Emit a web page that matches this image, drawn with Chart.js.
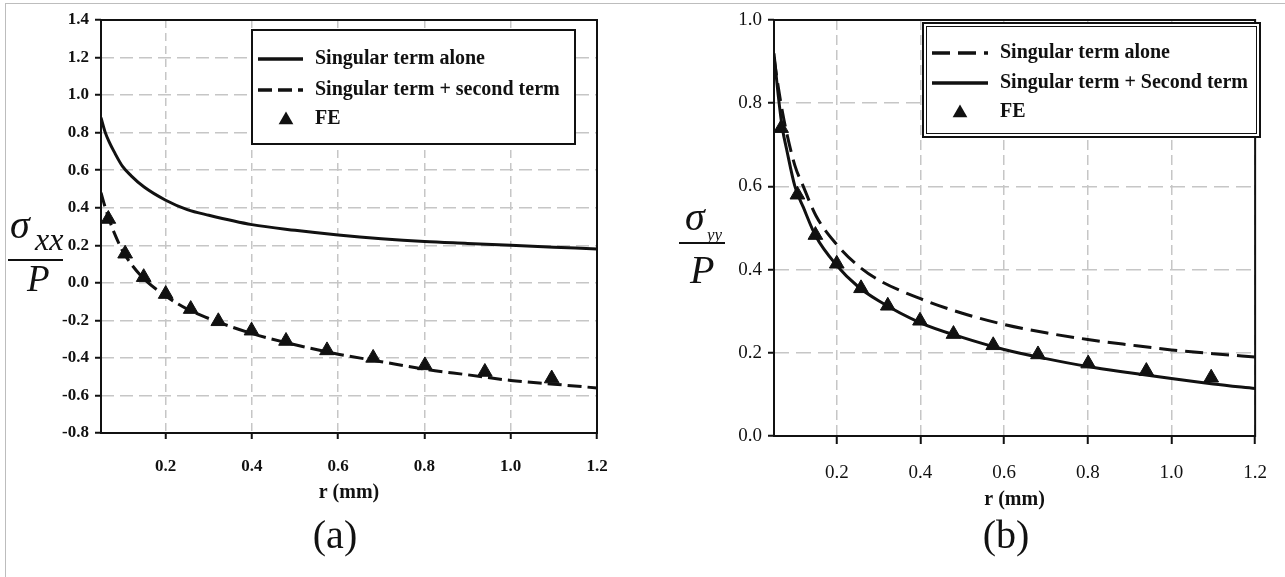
<!DOCTYPE html>
<html>
<head>
<meta charset="utf-8">
<script src="https://cdn.jsdelivr.net/npm/chart.js@4.4.1/dist/chart.umd.min.js"></script>
<style>
  body { margin: 0; background: #fff; }
  #page { position: relative; width: 1285px; height: 577px; overflow: hidden; background: #fff; }
  #frame { position: absolute; left: 5px; top: 3px; width: 1300px; height: 600px; border-top: 1px solid #bdbdbd; border-left: 1px solid #bdbdbd; }
  .box { position: absolute; top: 0; height: 577px; }
</style>
</head>
<body>
<div id="page">
  <div id="frame"></div>
  <div class="box" style="left:0;width:640px"><canvas id="chartA"></canvas></div>
  <div class="box" style="left:640px;width:645px"><canvas id="chartB"></canvas></div>
</div>
<script>
// r values (mm)
const rLine = [0.05, 0.06, 0.07, 0.08, 0.10, 0.12, 0.15, 0.20, 0.25, 0.30, 0.40, 0.50, 0.60, 0.70, 0.80, 0.90, 1.00, 1.10, 1.20];
// r values of the FE points
const rFE = [0.067, 0.106, 0.149, 0.200, 0.258, 0.322, 0.399, 0.479, 0.574, 0.681, 0.801, 0.940, 1.095];

// (a) sigma_xx / P
const sxxSingular = [0.88, 0.80, 0.745, 0.70, 0.62, 0.57, 0.51, 0.44, 0.39, 0.36, 0.31, 0.28, 0.255, 0.235, 0.22, 0.21, 0.20, 0.19, 0.18];
const sxxTwoTerm = [0.48, 0.40, 0.33, 0.27, 0.17, 0.10, 0.02, -0.07, -0.14, -0.19, -0.27, -0.33, -0.38, -0.42, -0.46, -0.49, -0.52, -0.54, -0.56];
const sxxFE = [0.34, 0.155, 0.03, -0.06, -0.14, -0.205, -0.255, -0.31, -0.36, -0.40, -0.44, -0.475, -0.51];

// (b) sigma_yy / P
const syySingular = [0.91, 0.84, 0.78, 0.73, 0.65, 0.60, 0.53, 0.46, 0.41, 0.375, 0.33, 0.295, 0.268, 0.248, 0.232, 0.219, 0.207, 0.198, 0.19];
const syyTwoTerm = [0.92, 0.82, 0.74, 0.69, 0.60, 0.55, 0.48, 0.41, 0.36, 0.325, 0.272, 0.237, 0.208, 0.186, 0.167, 0.152, 0.138, 0.125, 0.114];
const syyFE = [0.74, 0.58, 0.483, 0.414, 0.355, 0.313, 0.277, 0.245, 0.218, 0.196, 0.174, 0.156, 0.14];

// tick labels
const xTicks = [0.2, 0.4, 0.6, 0.8, 1.0, 1.2];
const yTicksA = [-0.8, -0.6, -0.4, -0.2, 0.0, 0.2, 0.4, 0.6, 0.8, 1.0, 1.2, 1.4];
const yTicksB = [0.0, 0.2, 0.4, 0.6, 0.8, 1.0];

const INK = '#111';
const SERIF = '"Liberation Serif", "Times New Roman", serif';

function pairs(xs, ys) {
  return xs.map((x, i) => ({x: x, y: ys[i]}));
}

function lineSet(label, ys, dash) {
  return {
    label: label,
    data: pairs(rLine, ys),
    showLine: true,
    borderColor: INK,
    borderWidth: 3,
    borderDash: dash,
    pointRadius: 0,
    cubicInterpolationMode: 'monotone'
  };
}

function feSet(ys) {
  return {
    label: 'FE',
    data: pairs(rFE, ys),
    showLine: false,
    pointStyle: 'triangle',
    pointRadius: 8.5,
    backgroundColor: INK,
    borderColor: INK,
    borderWidth: 1
  };
}

function drawTriangle(ctx, x, y, r) {
  ctx.beginPath();
  ctx.moveTo(x, y - r);
  ctx.lineTo(x + r * 0.866, y + r / 2);
  ctx.lineTo(x - r * 0.866, y + r / 2);
  ctx.closePath();
  ctx.fill();
}

// box round the plot area
const plotFrame = {
  id: 'plotFrame',
  afterDatasetsDraw(chart) {
    const {ctx, chartArea: a} = chart;
    ctx.save();
    ctx.strokeStyle = INK;
    ctx.lineWidth = 2;
    ctx.strokeRect(a.left, a.top, a.right - a.left, a.bottom - a.top);
    ctx.restore();
  }
};

// legend drawn inside the plot, like the original figure
const legendBox = {
  id: 'legendBox',
  afterDraw(chart, args, o) {
    const ctx = chart.ctx;
    ctx.save();
    ctx.fillStyle = '#fff';
    ctx.fillRect(o.x, o.y, o.w, o.h);
    ctx.strokeStyle = INK;
    ctx.lineWidth = 2;
    ctx.strokeRect(o.x, o.y, o.w, o.h);
    if (o.double) {
      ctx.lineWidth = 1;
      ctx.strokeRect(o.x + 3.5, o.y + 3.5, o.w - 7, o.h - 7);
    }
    ctx.font = 'bold 20px ' + SERIF;
    ctx.textBaseline = 'middle';
    chart.data.datasets.forEach((ds, i) => {
      const y = o.rows[i];
      ctx.fillStyle = INK;
      if (ds.showLine) {
        ctx.strokeStyle = INK;
        ctx.lineWidth = 3.5;
        ctx.setLineDash(ds.borderDash || []);
        ctx.beginPath();
        ctx.moveTo(o.sampleX, y);
        ctx.lineTo(o.sampleX + o.sampleW, y);
        ctx.stroke();
        ctx.setLineDash([]);
      } else {
        drawTriangle(ctx, o.markerX, y + 1, 8.5);
      }
      ctx.fillText(ds.label, o.textX, y);
    });
    ctx.restore();
  }
};

// y axis fraction, x axis title and the (a)/(b) caption
const figureText = {
  id: 'figureText',
  afterDraw(chart, args, o) {
    const ctx = chart.ctx;
    const a = chart.chartArea;
    ctx.save();
    ctx.fillStyle = INK;
    ctx.textBaseline = 'alphabetic';
    ctx.textAlign = 'left';
    ctx.font = 'italic ' + o.sigma.size + 'px ' + SERIF;
    ctx.fillText('σ', o.sigma.x, o.sigma.y);
    ctx.font = 'italic ' + o.sub.size + 'px ' + SERIF;
    ctx.fillText(o.sub.text, o.sub.x, o.sub.y);
    ctx.font = 'italic ' + o.p.size + 'px ' + SERIF;
    ctx.fillText('P', o.p.x, o.p.y);
    ctx.strokeStyle = INK;
    ctx.lineWidth = 2;
    ctx.beginPath();
    ctx.moveTo(o.bar.x1, o.bar.y);
    ctx.lineTo(o.bar.x2, o.bar.y);
    ctx.stroke();

    ctx.textAlign = 'center';
    ctx.textBaseline = 'middle';
    ctx.font = 'bold 20px ' + SERIF;
    ctx.fillText('r (mm)', (a.left + a.right) / 2, o.titleY);
    ctx.font = '40px ' + SERIF;
    ctx.fillText(o.caption, o.captionX, o.captionY);
    ctx.restore();
  }
};

function makeConfig(datasets, c) {
  return {
    type: 'scatter',
    data: {datasets: datasets},
    options: {
      responsive: true,
      maintainAspectRatio: false,
      animation: false,
      layout: {padding: c.padding},
      plugins: {
        legend: {display: false},
        tooltip: {enabled: false},
        legendBox: c.legend,
        figureText: c.text
      },
      scales: {
        x: {
          type: 'linear',
          min: 0.05,
          max: 1.2,
          afterBuildTicks: s => { s.ticks = xTicks.map(v => ({value: v})); },
          afterFit: s => { s.height = 60; },
          grid: {color: '#c6c6c6', lineWidth: 1.5, tickColor: INK, tickWidth: 2, tickLength: c.xTickLen},
          border: {display: false, dash: c.xDash},
          ticks: {
            padding: c.xPad,
            color: INK,
            font: {family: SERIF, size: c.tickSize, weight: c.tickWeight},
            callback: v => v.toFixed(1)
          }
        },
        y: {
          type: 'linear',
          min: c.yTicks[0],
          max: c.yTicks[c.yTicks.length - 1],
          afterBuildTicks: s => { s.ticks = c.yTicks.map(v => ({value: v})); },
          afterFit: s => { s.width = c.yWidth; },
          grid: {color: '#c6c6c6', lineWidth: 1.5, tickColor: INK, tickWidth: 2, tickLength: 6},
          border: {display: false, dash: c.yDash},
          ticks: {
            padding: c.yPad,
            color: INK,
            font: {family: SERIF, size: c.tickSize, weight: c.tickWeight},
            callback: v => v.toFixed(1)
          }
        }
      }
    },
    plugins: [plotFrame, legendBox, figureText]
  };
}

const chartA = new Chart(document.getElementById('chartA'), makeConfig([
  lineSet('Singular term alone', sxxSingular, []),
  lineSet('Singular term + second term', sxxTwoTerm, [14, 6]),
  feSet(sxxFE)
], {
  padding: {left: 0, top: 20, right: 43, bottom: 84},
  yTicks: yTicksA,
  yWidth: 101,
  xTickLen: 6,
  xPad: 17,
  yPad: 6,
  xDash: [8, 5],
  yDash: [13, 6],
  tickSize: 17,
  tickWeight: 'bold',
  legend: {x: 252, y: 30, w: 323, h: 114, double: false, sampleX: 258, sampleW: 45, markerX: 286, textX: 315, rows: [59, 90, 119]},
  text: {
    sigma: {x: 10, y: 238, size: 40},
    sub: {text: 'xx', x: 35, y: 250, size: 32},
    p: {x: 27, y: 291, size: 37},
    bar: {x1: 8, x2: 63, y: 260},
    titleY: 493,
    caption: '(a)', captionX: 335, captionY: 537
  }
}));

const chartB = new Chart(document.getElementById('chartB'), makeConfig([
  lineSet('Singular term alone', syySingular, [18, 8]),
  lineSet('Singular term + Second term', syyTwoTerm, []),
  feSet(syyFE)
], {
  padding: {left: 0, top: 20, right: 26, bottom: 81},
  yTicks: yTicksB,
  yWidth: 134,
  xTickLen: 8,
  xPad: 18,
  yPad: 6,
  xDash: [10, 5],
  yDash: [15, 7],
  tickSize: 19,
  tickWeight: 'normal',
  legend: {x: 283, y: 23, w: 337, h: 114, double: true, sampleX: 292, sampleW: 56, markerX: 320, textX: 360, rows: [53, 83, 112]},
  text: {
    sigma: {x: 45, y: 230, size: 40},
    sub: {text: 'yy', x: 67, y: 240, size: 17},
    p: {x: 50, y: 283, size: 40},
    bar: {x1: 39, x2: 85, y: 243},
    titleY: 500,
    caption: '(b)', captionX: 366, captionY: 537
  }
}));
</script>
</body>
</html>
